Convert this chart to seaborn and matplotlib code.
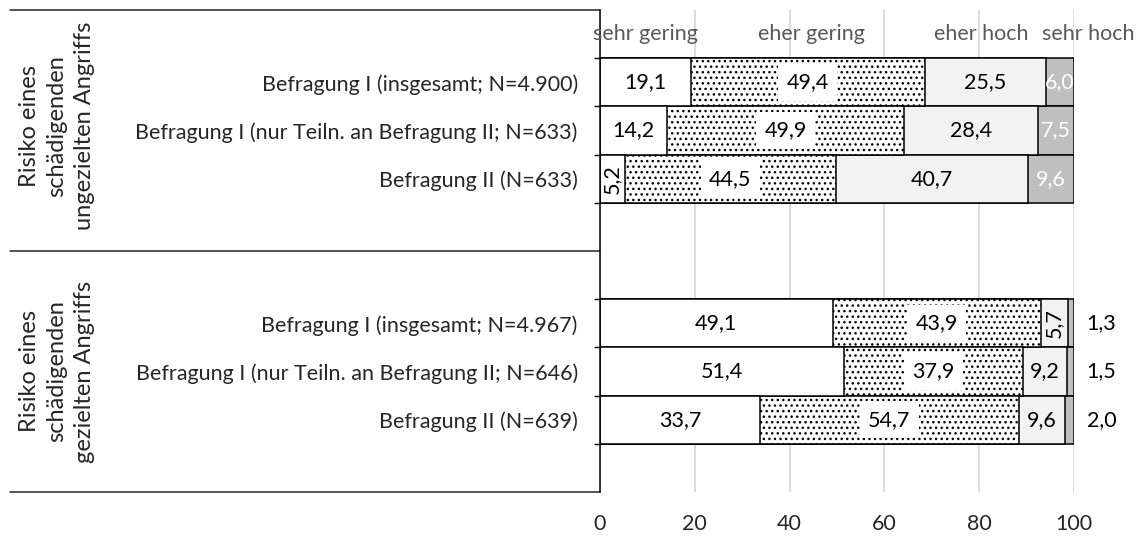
import matplotlib.pyplot as plt
import numpy as np
import pandas as pd
import seaborn as sns

# data (percent)
categories = ["sehr gering", "eher gering", "eher hoch", "sehr hoch"]
rows = [
    "Befragung I (insgesamt; N=4.900)",
    "Befragung I (nur Teiln. an Befragung II; N=633)",
    "Befragung II (N=633)",
    "Befragung I (insgesamt; N=4.967)",
    "Befragung I (nur Teiln. an Befragung II; N=646)",
    "Befragung II (N=639)",
]
groups = [
    "Risiko eines\nschädigenden\nungezielten Angriffs",
    "Risiko eines\nschädigenden\ngezielten Angriffs",
]
sehr_gering = [19.1, 14.2, 5.2, 49.1, 51.4, 33.7]
eher_gering = [49.4, 49.9, 44.5, 43.9, 37.9, 54.7]
eher_hoch = [25.5, 28.4, 40.7, 5.7, 9.2, 9.6]
sehr_hoch = [6.0, 7.5, 9.6, 1.3, 1.5, 2.0]

sns.set_style("white")
plt.rcParams["font.family"] = ["Lato", "DejaVu Sans"]
plt.rcParams["hatch.linewidth"] = 1.0
FS = 15.5

# slot 0 = header row, 4/5 = gap between the two blocks, 9 = empty
pos = [1, 2, 3, 6, 7, 8]
df = pd.DataFrame({"pos": pos, "row": rows})
vals = np.array([sehr_gering, eher_gering, eher_hoch, sehr_hoch])
cum = vals.cumsum(axis=0)
for i, c in enumerate(categories):
    df[c] = cum[i]

fig = plt.figure(figsize=(11.43, 5.36), dpi=100)
ax = fig.add_axes([600 / 1143, 1 - 492 / 536, 474 / 1143, 482 / 536])

colors = ["white", "white", "#f2f2f2", "#bfbfbf"]
hatches = [None, "...", None, None]
# draw cumulative layers from the outside in
for i in [3, 2, 1, 0]:
    sns.barplot(data=df, x=categories[i], y="pos", orient="h", native_scale=True,
                width=1.0, color=colors[i], edgecolor="black", linewidth=1.1,
                hatch=hatches[i], errorbar=None, saturation=1, ax=ax)

# value labels
for r in range(len(rows)):
    for i in range(4):
        v = vals[i, r]
        txt = f"{v:.1f}".replace(".", ",")
        mid = cum[i, r] - v / 2
        y = pos[r]
        if v < 3:
            ax.text(105.8, y, txt, ha="center", va="center", fontsize=FS, color="black")
            continue
        color = "white" if i == 3 else "black"
        rot = 90 if v < 5.8 else 0
        bbox = dict(facecolor="white", edgecolor="none", pad=6) if i == 1 else None
        ax.text(mid, y, txt, ha="center", va="center", fontsize=FS, color=color,
                rotation=rot, bbox=bbox, zorder=5)

# header row with the category names
for x, c in zip([9.6, 44.6, 80.5, 103.0], categories):
    ax.text(x, 0, c, ha="center", va="center", fontsize=FS, color="#595959", clip_on=False)

ax.set_xlim(0, 100)
ax.set_ylim(9.5, -0.5)
ax.set_xticks([0, 20, 40, 60, 80, 100])
ax.tick_params(axis="x", length=0, pad=16, labelsize=FS, labelcolor="#262626")
ax.set_yticks(pos, rows)
ax.tick_params(axis="y", which="major", length=0, pad=16, labelsize=FS)
ax.set_yticks([0.5, 1.5, 2.5, 3.5, 5.5, 6.5, 7.5, 8.5], minor=True)
ax.tick_params(axis="y", which="minor", length=4, width=1, left=True, direction="out", color="black")
ax.set_xlabel("")
ax.set_ylabel("")
ax.grid(axis="x", color="#d9d9d9", linewidth=1.3)
ax.set_axisbelow(True)
for s in ["top", "right", "bottom"]:
    ax.spines[s].set_visible(False)
ax.spines["left"].set_color("black")
ax.spines["left"].set_linewidth(1.1)

# table-like separators on the left
tr = ax.get_yaxis_transform()
for y in [-0.5, 4.5, 9.5]:
    ax.plot([-590 / 474, 0], [y, y], transform=tr, clip_on=False, color="#262626", lw=1.1)
for y, g in zip([1.9, 7.0], groups):
    ax.text(-543 / 474, y, g, transform=tr, rotation=90, ha="center", va="center",
            multialignment="center", fontsize=17, linespacing=1.4)

fig.savefig("out.png", dpi=100)
